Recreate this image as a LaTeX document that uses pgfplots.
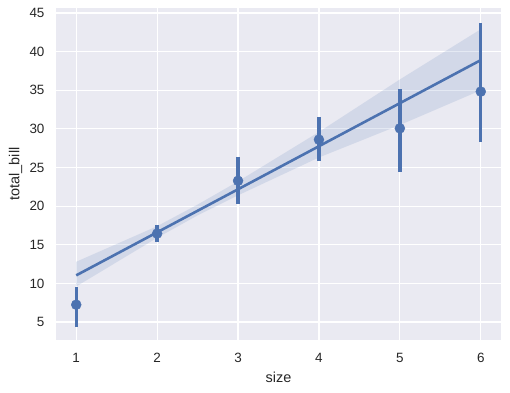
\documentclass[border=0pt]{standalone}
\usepackage{pgfplots}
\pgfplotsset{compat=1.18}
\usepackage{fontspec}
\setmainfont{Liberation Sans}
\definecolor{bg}{HTML}{EAEAF2}
\definecolor{sb}{HTML}{4C72B0}
\begin{document}
\begin{tikzpicture}
\path[use as bounding box] (-56bp,-53bp) rectangle (454bp,340bp);
\begin{axis}[
 scale only axis, width=445bp, height=332bp,
 at={(0,0)}, anchor=south west,
 xmin=0.75, xmax=6.25, ymin=2.67, ymax=45.65,
 axis background/.style={fill=bg},
 axis line style={draw=none},
 grid=major, major grid style={white, line width=1.2bp},
 tick style={draw=none},
 xtick={1,2,3,4,5,6}, ytick={5,10,15,20,25,30,35,40,45},
 ticklabel style={font=\fontsize{13.5}{15}\selectfont, text=black!85},
 /pgf/number format/assume math mode=true,
 xlabel={size}, ylabel={total\_bill},
 label style={font=\fontsize{14.5}{16}\selectfont, text=black!85},
 xticklabel style={yshift=-10bp},
 yticklabel style={xshift=-8bp},
 xlabel style={at={(axis description cs:0.5,-0.1277)}, anchor=base},
 ylabel style={at={(axis description cs:-0.0825,0.5)}, anchor=base},
 clip=false,
]
\addplot[sb, only marks, mark=*, mark size=5bp, mark options={fill=sb, draw=sb},
  error bars/.cd, y dir=both, y explicit, error mark=none,
  error bar style={line width=3.3bp, sb}]
 coordinates {
 (1,7.24) += (0,2.26) -= (0,2.84)
 (2,16.45) += (0,1.15) -= (0,1.15)
 (3,23.28) += (0,3.02) -= (0,2.98)
 (4,28.61) += (0,2.99) -= (0,2.81)
 (5,30.07) += (0,5.03) -= (0,5.67)
 (6,34.83) += (0,8.87) -= (0,6.53)
 };
\addplot[fill=sb, fill opacity=0.15, draw=none] coordinates {
 (1,12.8) (2,17.4) (2.5,20.2) (3,23.2) (4,29.6) (5,36.4) (6,42.9)
 (6,35.0) (5,30.5) (4,26.3) (3,21.4) (2.5,18.8) (2,15.9) (1,9.6)
} -- cycle;
\addplot[sb, line width=2.6bp] coordinates {(1,11.04) (6,38.9)};
\end{axis}
\end{tikzpicture}
\end{document}
